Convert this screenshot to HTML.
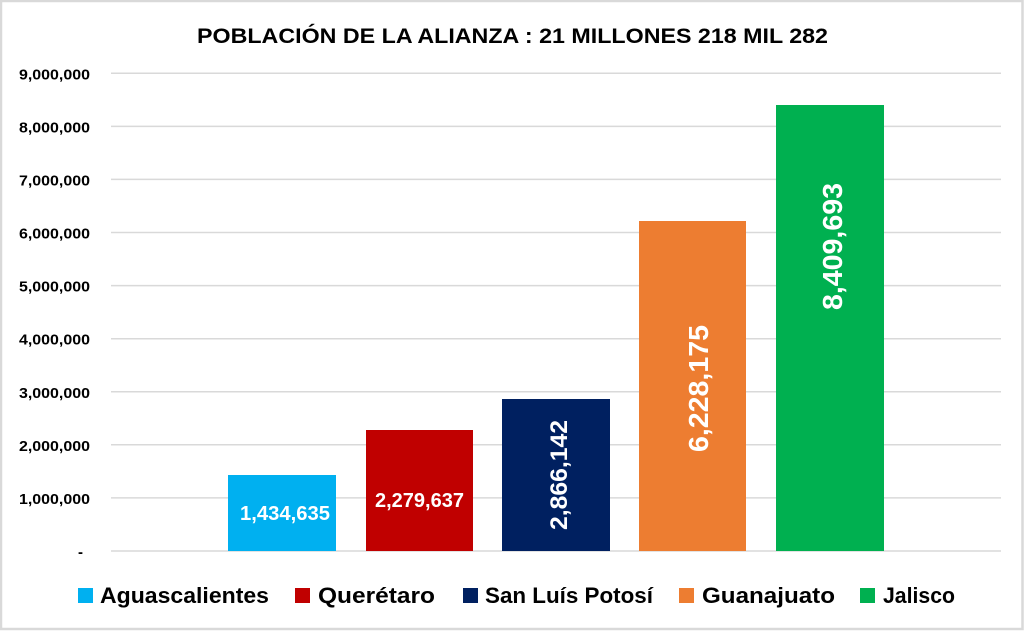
<!DOCTYPE html>
<html>
<head>
<meta charset="utf-8">
<style>
  html, body { margin: 0; padding: 0; background: #fff; }
  svg { display: block; }
  text { font-family: "Liberation Sans", sans-serif; font-weight: bold; }
</style>
</head>
<body>
<svg width="1024" height="631" viewBox="0 0 1024 631" xmlns="http://www.w3.org/2000/svg">
  <rect x="0" y="0" width="1024" height="631" fill="#ffffff"/>
  <rect x="1" y="1" width="1021.5" height="628" fill="none" stroke="#d9d9d9" stroke-width="2.5"/>

  <!-- Title -->
  <text x="197" y="43" font-size="21" fill="#000" textLength="631" lengthAdjust="spacingAndGlyphs">POBLACIÓN DE LA ALIANZA : 21 MILLONES 218 MIL 282</text>

  <!-- Gridlines -->
  <g stroke="#d9d9d9" stroke-width="1.5">
    <line x1="111" y1="73.3" x2="1001" y2="73.3"/>
    <line x1="111" y1="126.4" x2="1001" y2="126.4"/>
    <line x1="111" y1="179.4" x2="1001" y2="179.4"/>
    <line x1="111" y1="232.5" x2="1001" y2="232.5"/>
    <line x1="111" y1="285.6" x2="1001" y2="285.6"/>
    <line x1="111" y1="338.7" x2="1001" y2="338.7"/>
    <line x1="111" y1="391.8" x2="1001" y2="391.8"/>
    <line x1="111" y1="444.8" x2="1001" y2="444.8"/>
    <line x1="111" y1="497.9" x2="1001" y2="497.9"/>
    <line x1="111" y1="551" x2="1001" y2="551"/>
  </g>

  <!-- Y axis labels -->
  <g font-size="15" fill="#000" text-anchor="end">
    <text x="90" y="79.3" textLength="71" lengthAdjust="spacingAndGlyphs">9,000,000</text>
    <text x="90" y="132.4" textLength="71" lengthAdjust="spacingAndGlyphs">8,000,000</text>
    <text x="90" y="185.4" textLength="71" lengthAdjust="spacingAndGlyphs">7,000,000</text>
    <text x="90" y="238.5" textLength="71" lengthAdjust="spacingAndGlyphs">6,000,000</text>
    <text x="90" y="291.6" textLength="71" lengthAdjust="spacingAndGlyphs">5,000,000</text>
    <text x="90" y="344.7" textLength="71" lengthAdjust="spacingAndGlyphs">4,000,000</text>
    <text x="90" y="397.8" textLength="71" lengthAdjust="spacingAndGlyphs">3,000,000</text>
    <text x="90" y="450.8" textLength="71" lengthAdjust="spacingAndGlyphs">2,000,000</text>
    <text x="90" y="503.9" textLength="71" lengthAdjust="spacingAndGlyphs">1,000,000</text>
    <text x="83" y="557">-</text>
  </g>

  <!-- Bars -->
  <rect x="228" y="475" width="108" height="76" fill="#00b0f0"/>
  <rect x="366" y="430" width="107" height="121" fill="#c00000"/>
  <rect x="502" y="399" width="108" height="152" fill="#002060"/>
  <rect x="639" y="221" width="107" height="330" fill="#ed7d31"/>
  <rect x="776" y="105" width="108" height="446" fill="#00b050"/>

  <!-- Bar labels -->
  <g fill="#ffffff">
    <text x="285" y="520" font-size="20" text-anchor="middle" textLength="90" lengthAdjust="spacingAndGlyphs">1,434,635</text>
    <text x="419.5" y="507" font-size="20" text-anchor="middle" textLength="89" lengthAdjust="spacingAndGlyphs">2,279,637</text>
    <text transform="translate(567,475) rotate(-90)" font-size="24" text-anchor="middle" textLength="110" lengthAdjust="spacingAndGlyphs">2,866,142</text>
    <text transform="translate(708,388.5) rotate(-90)" font-size="28" text-anchor="middle" textLength="127" lengthAdjust="spacingAndGlyphs">6,228,175</text>
    <text transform="translate(842,246.5) rotate(-90)" font-size="28" text-anchor="middle" textLength="127" lengthAdjust="spacingAndGlyphs">8,409,693</text>
  </g>

  <!-- Legend -->
  <rect x="78" y="588" width="15" height="15" fill="#00b0f0"/>
  <text x="100" y="603" font-size="22" fill="#000" textLength="169" lengthAdjust="spacingAndGlyphs">Aguascalientes</text>
  <rect x="295" y="588" width="15" height="15" fill="#c00000"/>
  <text x="318" y="603" font-size="22" fill="#000" textLength="117" lengthAdjust="spacingAndGlyphs">Querétaro</text>
  <rect x="463" y="588" width="15" height="15" fill="#002060"/>
  <text x="485" y="603" font-size="22" fill="#000" textLength="168" lengthAdjust="spacingAndGlyphs">San Luís Potosí</text>
  <rect x="679" y="588" width="15" height="15" fill="#ed7d31"/>
  <text x="702" y="603" font-size="22" fill="#000" textLength="133" lengthAdjust="spacingAndGlyphs">Guanajuato</text>
  <rect x="860" y="588" width="15" height="15" fill="#00b050"/>
  <text x="883" y="603" font-size="22" fill="#000" textLength="72" lengthAdjust="spacingAndGlyphs">Jalisco</text>
</svg>
</body>
</html>
